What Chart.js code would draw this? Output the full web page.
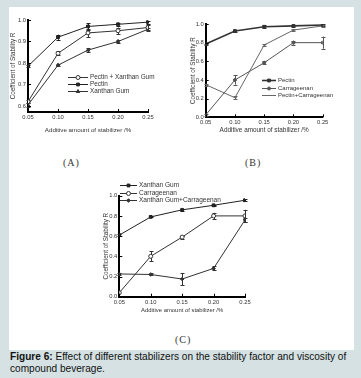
<!DOCTYPE html>
<html><head><meta charset="utf-8">
<script src="https://cdn.jsdelivr.net/npm/chart.js@4/dist/chart.umd.min.js"></script>
<style>
html,body{margin:0;padding:0;}
body{width:361px;height:378px;background:#d5e1e3;position:relative;overflow:hidden;font-family:"Liberation Sans",Arial,sans-serif;}
#panel{position:absolute;left:9px;top:7px;width:345px;height:343px;background:#fff;}
.box{position:absolute;}
.lab{position:absolute;font-family:"Liberation Serif","DejaVu Serif",serif;font-size:10px;color:#333;letter-spacing:1px;white-space:nowrap;}
#cap{position:absolute;left:10px;top:351px;font-size:10.1px;line-height:12px;color:#111;white-space:nowrap;}
</style></head>
<body>
<div id="panel"></div>
<div class="box" style="left:0;top:0;width:180px;height:145px"><canvas id="cA" width="180" height="145"></canvas></div>
<div class="box" style="left:180px;top:0;width:181px;height:145px"><canvas id="cB" width="181" height="145"></canvas></div>
<div class="box" style="left:80px;top:175px;width:200px;height:155px"><canvas id="cC" width="200" height="155"></canvas></div>
<div class="lab" style="left:63px;top:157px">(A)</div>
<div class="lab" style="left:245px;top:157px">(B)</div>
<div class="lab" style="left:175px;top:334px">(C)</div>
<div id="cap"><b>Figure 6:</b> Effect of different stabilizers on the stability factor and viscosity of<br>compound beverage.</div>
<script>
// ---- data ----
const xValues = [0.05, 0.10, 0.15, 0.20, 0.25];
const xTickValues = [0.05, 0.10, 0.15, 0.20, 0.25];
const xTitle = 'Additive amount of stabilizer /%';
const yTitle = 'Coefficient of Stability R';

// Chart A
const aYTicks = [0.6, 0.7, 0.8, 0.9, 1.0];
const aPectinXanthan = [0.62, 0.845, 0.94, 0.95, 0.965];
const aPectinXanthanErr = [0.008, 0.01, 0.02, 0.015, 0.01];
const aPectin = [0.785, 0.92, 0.97, 0.98, 0.99];
const aPectinErr = [0.005, 0.012, 0.015, 0.007, 0.007];
const aXanthan = [0.605, 0.79, 0.86, 0.90, 0.957];
const aXanthanErr = [0.01, 0.006, 0.01, 0.008, 0.008];

// Chart B
const bYTicks = [0.0, 0.2, 0.4, 0.6, 0.8, 1.0];
const bPectin = [0.785, 0.925, 0.97, 0.98, 0.99];
const bPectinErr = [0.005, 0.007, 0.015, 0.01, 0.01];
const bCarrageenan = [0.025, 0.40, 0.585, 0.80, 0.80];
const bCarrageenanErr = [0.01, 0.05, 0.015, 0.02, 0.065];
const bPectinCarrageenan = [0.35, 0.21, 0.775, 0.935, 0.98];
const bPectinCarrageenanErr = [0.01, 0.015, 0.01, 0.01, 0.01];

// Chart C
const cYTicks = [0.0, 0.2, 0.4, 0.6, 0.8, 1.0];
const cXanthan = [0.61, 0.79, 0.86, 0.905, 0.955];
const cXanthanErr = [0.01, 0.005, 0.007, 0.005, 0.008];
const cCarrageenan = [0.04, 0.40, 0.59, 0.80, 0.80];
const cCarrageenanErr = [0.0, 0.05, 0.015, 0.03, 0.06];
const cXanthanCarrageenan = [0.225, 0.22, 0.175, 0.28, 0.76];
const cXanthanCarrageenanErr = [0.01, 0.01, 0.06, 0.02, 0.02];

// ---- helpers ----
const FONT = '"Liberation Sans",Arial,sans-serif';
const pts = ys => xValues.map((x, i) => ({x: x, y: ys[i]}));

const innerTicks = {
  id: 'innerTicks',
  afterDatasetsDraw(chart) {
    const {ctx, scales: {x, y}, chartArea: a} = chart;
    ctx.save();
    ctx.strokeStyle = '#000';
    ctx.lineWidth = 1;
    x.ticks.forEach(t => {
      const px = Math.round(x.getPixelForValue(t.value)) + 0.5;
      ctx.beginPath(); ctx.moveTo(px, a.bottom); ctx.lineTo(px, a.bottom - 3); ctx.stroke();
    });
    y.ticks.forEach(t => {
      const py = Math.round(y.getPixelForValue(t.value)) + 0.5;
      ctx.beginPath(); ctx.moveTo(a.left, py); ctx.lineTo(a.left + 3, py); ctx.stroke();
    });
    ctx.restore();
  }
};

const errorBars = {
  id: 'errorBars',
  beforeDatasetsDraw(chart) {
    const {ctx, scales: {y}} = chart;
    ctx.save();
    chart.data.datasets.forEach((ds, di) => {
      if (!ds.err) return;
      const meta = chart.getDatasetMeta(di);
      ctx.strokeStyle = ds.borderColor;
      ctx.lineWidth = 1;
      meta.data.forEach((el, j) => {
        const e = ds.err[j];
        if (!e) return;
        const v = ds.data[j].y;
        const y1 = y.getPixelForValue(v + e), y2 = y.getPixelForValue(v - e);
        const px = Math.round(el.x) + 0.5;
        ctx.beginPath();
        ctx.moveTo(px, y1); ctx.lineTo(px, y2);
        ctx.moveTo(px - 2, Math.round(y1) + 0.5); ctx.lineTo(px + 2, Math.round(y1) + 0.5);
        ctx.moveTo(px - 2, Math.round(y2) + 0.5); ctx.lineTo(px + 2, Math.round(y2) + 0.5);
        ctx.stroke();
      });
    });
    ctx.restore();
  }
};

const boxLegend = {
  id: 'boxLegend',
  afterDraw(chart, args, o) {
    if (!o || o.x === undefined) return;
    const ctx = chart.ctx;
    ctx.save();
    ctx.font = o.size + 'px ' + FONT;
    ctx.textBaseline = 'middle';
    chart.data.datasets.forEach((ds, i) => {
      const y = Math.round(o.y + i * o.dy) + 0.5;
      ctx.strokeStyle = ds.borderColor;
      ctx.lineWidth = ds.borderWidth;
      ctx.beginPath(); ctx.moveTo(o.x, y); ctx.lineTo(o.x + o.len, y); ctx.stroke();
      ctx.fillStyle = ds.pointBackgroundColor;
      ctx.strokeStyle = ds.borderColor;
      ctx.lineWidth = 1;
      Chart.helpers.drawPoint(ctx, {pointStyle: ds.pointStyle, radius: ds.pointRadius, borderWidth: 1, rotation: 0}, o.x + o.len / 2, y);
      ctx.fillStyle = '#333';
      ctx.fillText(ds.label, o.x + o.len + 2, y);
    });
    ctx.restore();
  }
};

function ds(label, vals, err, color, style, fill, radius, width) {
  return {label: label, data: pts(vals), err: err, borderColor: color, borderWidth: width || 1,
    pointStyle: style, pointRadius: radius, pointBackgroundColor: fill, pointBorderColor: color,
    pointBorderWidth: 1, tension: 0, fill: false};
}

function makeChart(id, geom, yMin, yMax, yTicks, datasets, legend, fonts) {
  const tickFont = {family: FONT, size: fonts.tick};
  return new Chart(document.getElementById(id), {
    type: 'line',
    data: {datasets: datasets},
    options: {
      responsive: false, animation: false, events: [],
      layout: {padding: {left: 0, top: geom.T, right: geom.w - geom.R, bottom: 0}},
      plugins: {legend: {display: false}, tooltip: {enabled: false}, boxLegend: legend},
      scales: {
        x: {
          type: 'linear', min: 0.05, max: 0.25,
          afterBuildTicks: s => { s.ticks = xTickValues.map(v => ({value: v})); },
          ticks: {callback: v => Number(v).toFixed(2), font: tickFont, color: '#333', padding: 2, maxRotation: 0, autoSkip: false},
          grid: {display: false, drawTicks: false},
          border: {color: '#000', width: 2},
          title: {display: true, text: xTitle, font: {family: FONT, size: fonts.xt}, color: '#333', padding: {top: 0, bottom: geom.xtPad}},
          afterFit: s => { s.height = geom.h - geom.B; s.paddingLeft = 0; s.paddingRight = 0; }
        },
        y: {
          type: 'linear', min: yMin, max: yMax,
          afterBuildTicks: s => { s.ticks = yTicks.map(v => ({value: v})); },
          ticks: {callback: v => Number(v).toFixed(1), font: tickFont, color: '#333', padding: 2},
          grid: {display: false, drawTicks: false},
          border: {color: '#000', width: 2},
          title: {display: true, text: yTitle, font: {family: FONT, size: fonts.yt}, color: '#333', padding: {top: geom.ytPad, bottom: 0}},
          afterFit: s => { s.width = geom.L; s.paddingTop = 0; s.paddingBottom = 0; }
        }
      }
    },
    plugins: [errorBars, innerTicks, boxLegend]
  });
}

// Chart A
makeChart('cA', {w: 180, h: 145, L: 28, T: 20, R: 148, B: 112, xtPad: 11, ytPad: 9}, 0.572, 1.0, aYTicks, [
  ds('Pectin + Xanthan Gum', aPectinXanthan, aPectinXanthanErr, '#333', 'circle', '#fff', 2),
  ds('Pectin', aPectin, aPectinErr, '#222', 'rect', '#222', 2),
  ds('Xanthan Gum', aXanthan, aXanthanErr, '#333', 'triangle', '#333', 2)
], {x: 68, y: 77, dy: 7, len: 20, size: 6.4}, {tick: 5.8, xt: 6.2, yt: 6.3});

// Chart B
makeChart('cB', {w: 181, h: 145, L: 25.7, T: 24, R: 142.7, B: 117.3, xtPad: 10.5, ytPad: 9}, 0, 1.0, bYTicks, [
  ds('Pectin', bPectin, bPectinErr, '#333', 'rect', '#333', 2, 1.6),
  ds('Carrageenan', bCarrageenan, bCarrageenanErr, '#555', 'circle', '#555', 1.5),
  ds('Pectin+Carrageenan', bPectinCarrageenan, bPectinCarrageenanErr, '#666', 'dash', '#666', 2)
], {x: 82, y: 80, dy: 7.5, len: 14, size: 6.0}, {tick: 5.8, xt: 6.4, yt: 6.3});

// Chart C
makeChart('cC', {w: 200, h: 155, L: 39.3, T: 20.7, R: 165, B: 121.7, xtPad: 16, ytPad: 22}, 0, 1.0, cYTicks, [
  ds('Xanthan Gum', cXanthan, cXanthanErr, '#222', 'rect', '#222', 2),
  ds('Carrageenan', cCarrageenan, cCarrageenanErr, '#333', 'circle', '#fff', 2),
  ds('Xanthan Gum+Carrageenan', cXanthanCarrageenan, cXanthanCarrageenanErr, '#333', 'rectRot', '#333', 1.8)
], {x: 40, y: 10, dy: 7.5, len: 17, size: 6.5}, {tick: 5.8, xt: 5.9, yt: 6.3});
</script>
</body></html>
